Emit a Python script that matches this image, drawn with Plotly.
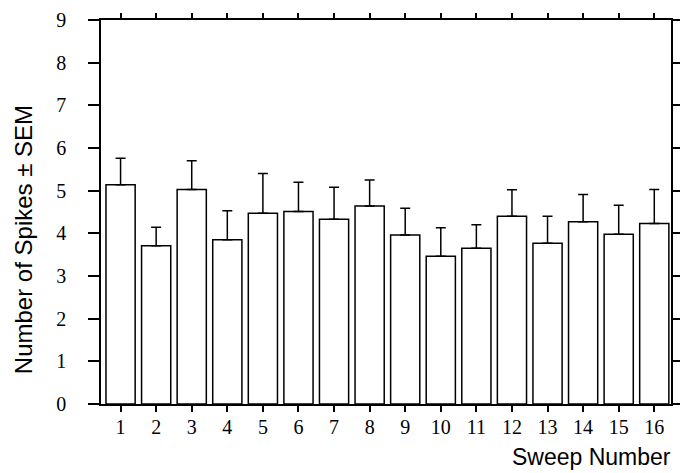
import plotly.graph_objects as go

# Mean spike count per sweep and its standard error
sweeps = list(range(1, 17))
mean_spikes = [5.14, 3.71, 5.03, 3.85, 4.47, 4.51, 4.33, 4.64,
               3.96, 3.46, 3.65, 4.40, 3.77, 4.27, 3.98, 4.23]
sem = [0.62, 0.43, 0.67, 0.68, 0.93, 0.69, 0.75, 0.61,
       0.63, 0.67, 0.55, 0.62, 0.63, 0.64, 0.68, 0.80]
y_ticks = list(range(0, 10))

serif = "Liberation Serif, Times New Roman, serif"
sans = "Liberation Sans, Arial, Helvetica, sans-serif"
x_range = [0.45, 16.47]
y_range = [0, 9]

fig = go.Figure()
fig.add_trace(go.Bar(
    x=sweeps, y=mean_spikes, width=0.82,
    marker=dict(color="white", line=dict(color="black", width=1.5)),
    error_y=dict(type="data", symmetric=False, array=sem,
                 arrayminus=[0] * len(sem), color="black",
                 thickness=1.5, width=5),
    showlegend=False,
))
# empty trace that carries the mirrored top/right axes
fig.add_trace(go.Scatter(x=[], y=[], xaxis="x2", yaxis="y2",
                         showlegend=False, hoverinfo="skip"))

axis_common = dict(showline=True, linecolor="black", linewidth=1.5,
                   showgrid=False, zeroline=False, ticks="outside",
                   tickcolor="black", tickwidth=1.5)

fig.update_layout(
    width=687, height=473,
    margin=dict(l=101, r=9, t=17, b=69),
    plot_bgcolor="white", paper_bgcolor="white",
    bargap=0.18,
    xaxis=dict(range=x_range, tickmode="array", tickvals=sweeps,
               ticktext=[str(s) for s in sweeps], ticklen=6,
               tickfont=dict(family=serif, size=20, color="black"),
               ticklabelstandoff=-2,
               **axis_common),
    yaxis=dict(range=y_range, tickmode="array", tickvals=y_ticks,
               ticktext=[str(t) for t in y_ticks], ticklen=11,
               tickfont=dict(family=serif, size=20, color="black"),
               ticklabelstandoff=18,
               **axis_common),
    xaxis2=dict(range=x_range, overlaying="x", side="top",
                tickmode="array", tickvals=sweeps, ticklen=5,
                showticklabels=False, **axis_common),
    yaxis2=dict(range=y_range, overlaying="y", side="right",
                tickmode="array", tickvals=y_ticks, ticklen=7,
                showticklabels=False, **axis_common),
    annotations=[
        dict(text="Sweep Number", xref="paper", yref="paper",
             x=1.003, y=-0.137, xanchor="right", yanchor="middle",
             showarrow=False, font=dict(family=sans, size=23, color="black")),
        dict(text="Number of Spikes \u00b1 SEM", xref="paper", yref="paper",
             x=-0.137, y=0.429, xanchor="center", yanchor="middle",
             textangle=-90, showarrow=False,
             font=dict(family=sans, size=24, color="black")),
    ],
)

fig.write_html("out.html")
